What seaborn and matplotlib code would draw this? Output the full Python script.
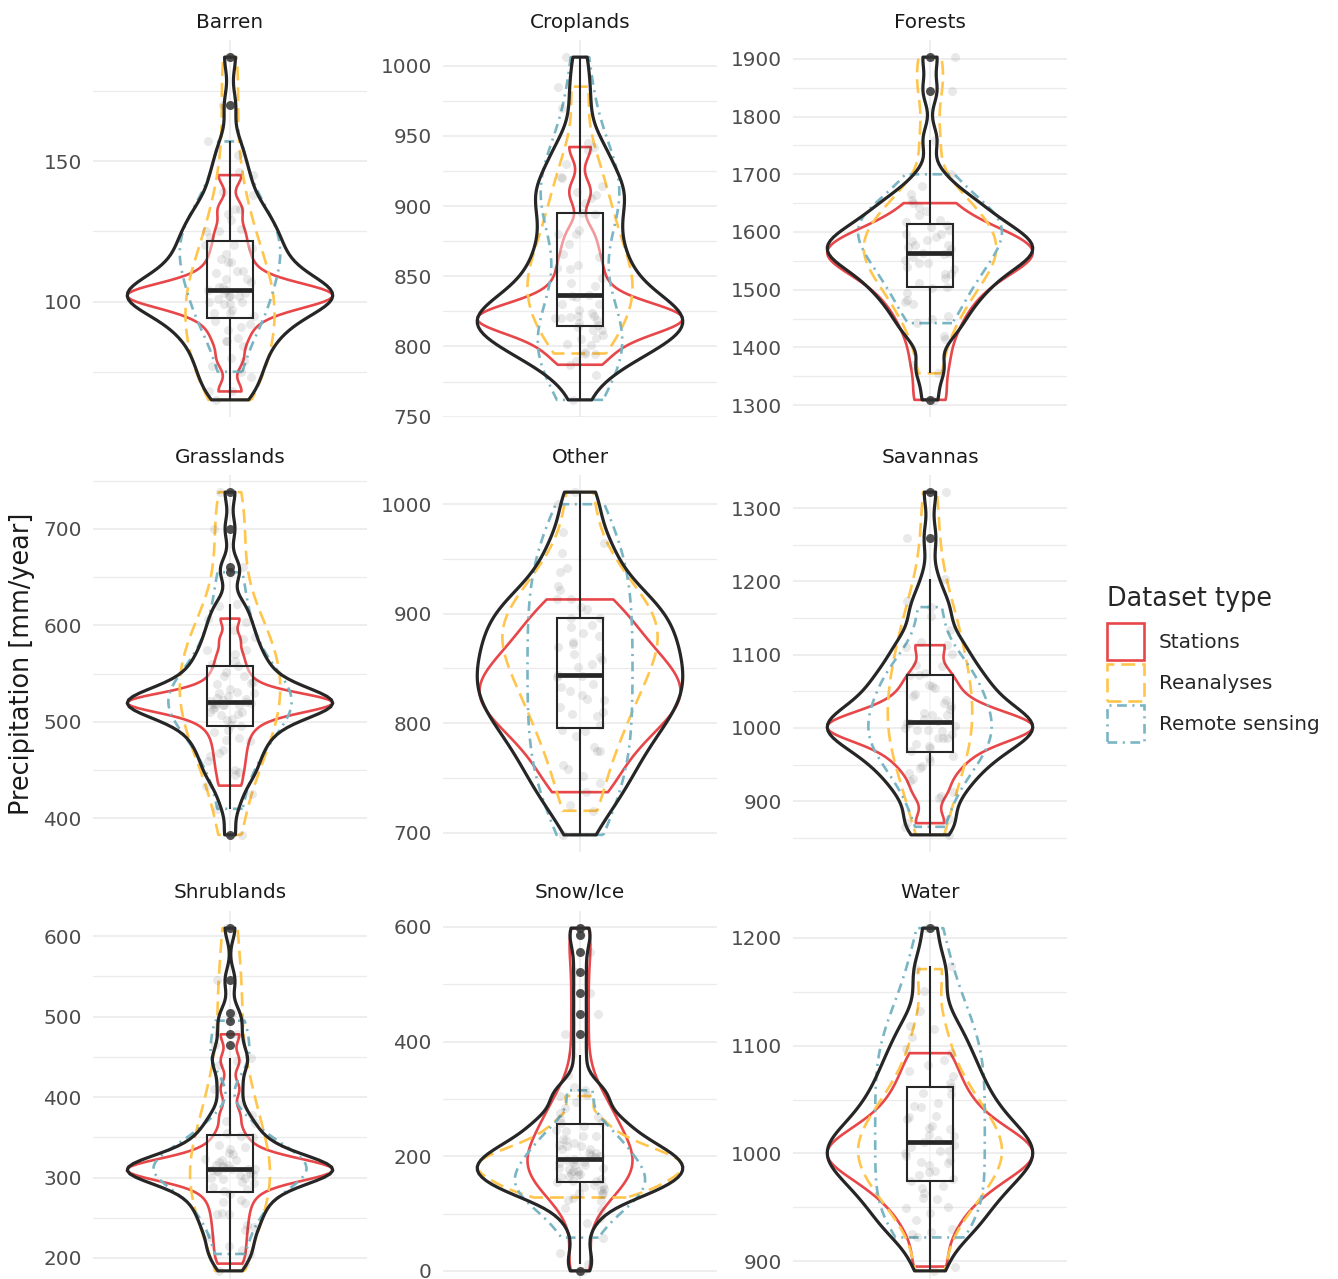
import numpy as np
import matplotlib
matplotlib.use("Agg")
import matplotlib.pyplot as plt
import seaborn as sns
from matplotlib.patches import Patch
from matplotlib.ticker import MultipleLocator, StrMethodFormatter

# ---------------------------------------------------------------------------
# Annual precipitation [mm/year] per land-cover class and dataset type
# ---------------------------------------------------------------------------
biomes = ["Barren", "Croplands", "Forests", "Grasslands", "Other",
          "Savannas", "Shrublands", "Snow/Ice", "Water"]
dataset_types = ["Stations", "Reanalyses", "Remote sensing"]

barren_stations = [68, 79, 86, 91, 95, 97, 99, 100, 101, 102, 102, 103, 103, 104, 105, 107, 110, 114, 119, 125, 133, 145]
barren_reanalyses = [65, 68, 73, 77, 80, 84, 87, 90, 93, 96, 99, 102, 105, 108, 111, 115, 120, 125, 131, 139, 152, 170, 187]
barren_remote = [75, 86, 92, 96, 100, 104, 108, 111, 114, 117, 120, 123, 126, 129, 133, 138, 146, 157]

croplands_stations = [787, 795, 802, 808, 812, 815, 817, 819, 820, 821, 822, 824, 826, 830, 836, 845, 855, 866, 880, 910, 942]
croplands_reanalyses = [795, 805, 814, 822, 830, 837, 843, 849, 856, 864, 873, 883, 894, 906, 920, 940, 985]
croplands_remote = [762, 780, 790, 796, 801, 806, 812, 820, 835, 858, 880, 895, 902, 908, 914, 921, 930, 945, 970, 1006]

forests_stations = [1309, 1370, 1420, 1455, 1482, 1503, 1520, 1535, 1547, 1556, 1563, 1570, 1577, 1586, 1597, 1612, 1650]
forests_reanalyses = [1355, 1415, 1450, 1475, 1495, 1512, 1527, 1540, 1552, 1563, 1574, 1585, 1596, 1608, 1621, 1636, 1655, 1680, 1760, 1845, 1903]
forests_remote = [1442, 1478, 1505, 1527, 1546, 1562, 1577, 1591, 1604, 1617, 1630, 1644, 1665, 1700]

grasslands_stations = [434, 448, 460, 471, 481, 490, 497, 503, 507, 510, 513, 515, 517, 518, 519, 520, 521, 522, 523, 525, 527, 530, 534, 540, 548, 558, 570, 586, 607]
grasslands_reanalyses = [383, 425, 450, 468, 483, 496, 508, 519, 530, 541, 552, 563, 575, 588, 603, 622, 660, 700, 738]
grasslands_remote = [410, 445, 465, 480, 492, 502, 510, 517, 524, 531, 539, 548, 560, 575, 595, 620, 655]

other_stations = [737, 758, 775, 788, 798, 807, 815, 822, 829, 836, 843, 851, 860, 870, 882, 896, 913]
other_reanalyses = [720, 752, 775, 793, 808, 821, 833, 844, 854, 863, 872, 880, 888, 896, 904, 913, 925, 942, 965, 1011]
other_remote = [698, 725, 745, 762, 778, 794, 810, 826, 842, 858, 874, 890, 906, 922, 938, 955, 975, 1000]

savannas_stations = [870, 912, 938, 955, 968, 978, 986, 992, 997, 1000, 1003, 1007, 1012, 1018, 1026, 1038, 1055, 1075, 1113]
savannas_reanalyses = [854, 876, 907, 927, 945, 959, 973, 986, 997, 1009, 1021, 1034, 1046, 1058, 1072, 1086, 1101, 1117, 1134, 1153, 1174, 1204, 1260, 1322]
savannas_remote = [865, 905, 930, 948, 962, 975, 986, 996, 1007, 1018, 1030, 1043, 1057, 1072, 1085, 1110, 1165]

shrublands_stations = [193, 210, 226, 241, 255, 268, 279, 288, 295, 300, 303, 305, 307, 308, 309, 311, 312, 314, 316, 319, 323, 330, 340, 355, 378, 410, 445, 478]
shrublands_reanalyses = [184, 215, 238, 256, 272, 286, 298, 310, 322, 336, 352, 370, 392, 418, 448, 505, 545, 610]
shrublands_remote = [205, 235, 255, 270, 283, 293, 300, 306, 311, 316, 322, 329, 338, 350, 368, 440, 465, 495]

snowice_stations = [0, 12, 32, 83, 106, 122, 134, 141, 148, 155, 160, 165, 170, 175, 180, 185, 190, 195, 201, 206, 212, 217, 223, 229, 236, 244, 252, 259, 268, 276, 285, 295, 307, 320, 341, 377, 413, 449, 485, 521, 557, 586, 598]
snowice_reanalyses = [128, 135, 142, 150, 157, 163, 169, 174, 179, 184, 189, 194, 199, 205, 212, 220, 230, 245, 265, 305]
snowice_remote = [58, 92, 110, 124, 136, 147, 157, 167, 178, 190, 203, 218, 235, 258, 315]

water_stations = [895, 925, 945, 958, 968, 976, 983, 989, 994, 998, 1002, 1006, 1011, 1017, 1024, 1032, 1043, 1056, 1072, 1093]
water_reanalyses = [891, 930, 950, 963, 974, 984, 992, 1000, 1008, 1016, 1025, 1035, 1047, 1062, 1082, 1115, 1171]
water_remote = [922, 927, 938, 949, 959, 970, 980, 991, 1002, 1012, 1023, 1034, 1044, 1055, 1065, 1076, 1087, 1097, 1108, 1118, 1132, 1151, 1174, 1209]

values = {
    "Barren": (barren_stations, barren_reanalyses, barren_remote),
    "Croplands": (croplands_stations, croplands_reanalyses, croplands_remote),
    "Forests": (forests_stations, forests_reanalyses, forests_remote),
    "Grasslands": (grasslands_stations, grasslands_reanalyses, grasslands_remote),
    "Other": (other_stations, other_reanalyses, other_remote),
    "Savannas": (savannas_stations, savannas_reanalyses, savannas_remote),
    "Shrublands": (shrublands_stations, shrublands_reanalyses, shrublands_remote),
    "Snow/Ice": (snowice_stations, snowice_reanalyses, snowice_remote),
    "Water": (water_stations, water_reanalyses, water_remote),
}

# ---------------------------------------------------------------------------
# Styling
# ---------------------------------------------------------------------------
type_colors = {"Stations": "#E8474A", "Reanalyses": "#FFC54D", "Remote sensing": "#7AB5C4"}
type_dashes = {"Stations": "solid", "Reanalyses": (0, (10, 5)),
               "Remote sensing": (0, (7, 4, 1.5, 4))}
# maximum violin width (stations, reanalyses, remote sensing) in each panel
violin_widths = {
    "Barren": (0.9, 0.39, 0.44), "Croplands": (0.9, 0.46, 0.37), "Forests": (0.9, 0.58, 0.63),
    "Grasslands": (0.9, 0.44, 0.54), "Other": (0.88, 0.68, 0.46), "Savannas": (0.9, 0.37, 0.54),
    "Shrublands": (0.9, 0.35, 0.67), "Snow/Ice": (0.46, 0.9, 0.57), "Water": (0.9, 0.63, 0.48),
}
major_step = {"Barren": 50, "Croplands": 50, "Forests": 100, "Grasslands": 100, "Other": 100,
              "Savannas": 100, "Shrublands": 100, "Snow/Ice": 200, "Water": 100}
group_bw_adjust = 0.85
overall_bw_adjust = 0.7
dark = "#262626"

sns.set_theme(style="white")
plt.rcParams["font.family"] = ["DejaVu Sans"]
plt.rcParams["lines.scale_dashes"] = False

W, H = 1338, 1279
fig = plt.figure(figsize=(W / 100, H / 100), dpi=100)
col_left = [93, 443, 793]
row_top = [40, 475, 911]
pw, ph = 274, 377


def nrd0_factor(v):
    """Silverman's rule-of-thumb bandwidth expressed as a factor of the std."""
    v = np.asarray(v, float)
    sd = v.std(ddof=1)
    q75, q25 = np.percentile(v, [75, 25])
    lo = min(sd, (q75 - q25) / 1.34) if q75 > q25 else sd
    return 0.9 * lo / sd * len(v) ** -0.2


np.random.seed(7)
for i, biome in enumerate(biomes):
    r, c = divmod(i, 3)
    ax = fig.add_axes([col_left[c] / W, 1 - (row_top[r] + ph) / H, pw / W, ph / H])
    groups = values[biome]
    allv = np.concatenate([np.asarray(g, float) for g in groups])

    # individual values, jittered
    sns.stripplot(y=allv, ax=ax, jitter=0.11, color="#3a3a3a", alpha=0.11,
                  size=6.5, linewidth=0)

    # one outline per dataset type
    for t, vals, w in zip(dataset_types, groups, violin_widths[biome]):
        n0 = len(ax.collections)
        sns.violinplot(y=vals, ax=ax, cut=0, inner=None, fill=False,
                       color=type_colors[t], linecolor=type_colors[t], linewidth=1.9,
                       width=w, density_norm="width", bw_method=nrd0_factor(vals),
                       bw_adjust=group_bw_adjust)
        for coll in ax.collections[n0:]:
            coll.set_linestyle(type_dashes[t])
            coll.set_joinstyle("round")

    # all datasets together
    n0 = len(ax.collections)
    sns.violinplot(y=allv, ax=ax, cut=0, inner=None, fill=False, color=dark,
                   linecolor=dark, linewidth=2.3, width=0.9, density_norm="width",
                   bw_method=nrd0_factor(allv), bw_adjust=overall_bw_adjust)
    for coll in ax.collections[n0:]:
        coll.set_joinstyle("round")

    sns.boxplot(y=allv, ax=ax, width=0.2, color="white", linecolor=dark, linewidth=1.5,
                showcaps=False,
                boxprops={"facecolor": (1, 1, 1, 0.45)},
                medianprops={"linewidth": 3.4},
                flierprops={"marker": "o", "markersize": 6.5, "markerfacecolor": "#333333",
                            "markeredgecolor": "#333333", "markeredgewidth": 0, "alpha": 0.85})

    lo, hi = allv.min(), allv.max()
    pad = 0.05 * (hi - lo)
    ax.set_ylim(lo - pad, hi + pad)
    ax.set_xlim(-0.6, 0.6)
    step = major_step[biome]
    ax.yaxis.set_major_locator(MultipleLocator(step))
    ax.yaxis.set_minor_locator(MultipleLocator(step / 2))
    ax.yaxis.set_major_formatter(StrMethodFormatter("{x:.0f}"))
    ax.set_xticks([0])
    ax.set_xticklabels([])
    ax.set_xlabel("")
    ax.set_ylabel("")
    ax.tick_params(axis="both", which="both", length=0, labelsize=14.4,
                   labelcolor="#4D4D4D", pad=8)
    for s in ax.spines.values():
        s.set_visible(False)
    ax.set_axisbelow(True)
    ax.grid(True, which="major", axis="both", color="#EBEBEB", linewidth=1.2)
    ax.grid(True, which="minor", axis="y", color="#EBEBEB", linewidth=0.9)
    ax.text(0.5, 1 + 12.5 / ph, biome, transform=ax.transAxes, ha="center",
            va="baseline", fontsize=14.4, color="#1A1A1A")

fig.text(22 / W, 1 - 664 / H, "Precipitation [mm/year]", rotation=90, ha="center",
         va="center", fontsize=18.4, color="#1A1A1A")

handles = [Patch(facecolor="none", edgecolor=type_colors[t], linestyle=type_dashes[t],
                 linewidth=1.9) for t in dataset_types]
leg = fig.legend(handles, dataset_types, title="Dataset type", loc="upper left",
                 bbox_to_anchor=(1107 / W, 1 - 586 / H), frameon=False, fontsize=14.4,
                 title_fontsize=18.4, handlelength=1.85, handleheight=2.47,
                 handletextpad=0.75, labelspacing=0.2, borderpad=0, borderaxespad=0,
                 alignment="left")
leg._legend_box.sep = 8

fig.savefig("out.png", dpi=100)
